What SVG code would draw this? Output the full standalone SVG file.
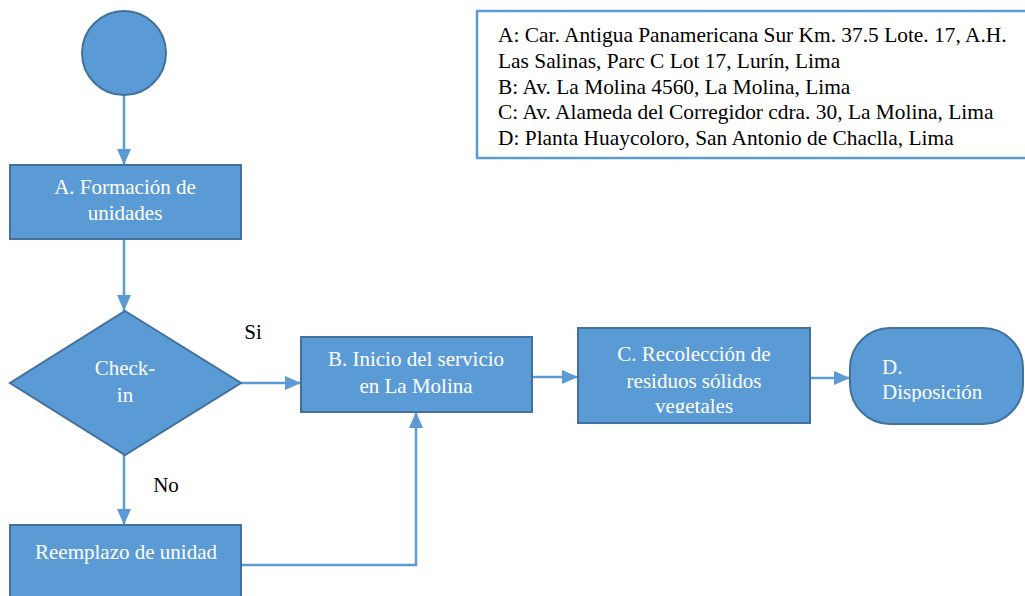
<svg xmlns="http://www.w3.org/2000/svg" width="1025" height="596" viewBox="0 0 1025 596">
<style>
.node{fill:#5B9BD5;stroke:#41719C;stroke-width:2}
.conn{fill:none;stroke:#5B9BD5;stroke-width:2.5}
</style>
<defs>
<marker id="ah" markerUnits="userSpaceOnUse" markerWidth="18" markerHeight="16" refX="16" refY="7" orient="auto">
<path d="M0,0 L16,7 L0,14 z" fill="#5B9BD5"/>
</marker>
<clipPath id="clipC"><rect x="578" y="328" width="232" height="85"/></clipPath>
<clipPath id="clipD"><rect x="850" y="328" width="175" height="74"/></clipPath>
</defs>
<rect width="1025" height="596" fill="#FFFFFF"/>
<g id="legend" font-family="'Liberation Serif', 'Times New Roman', serif" font-size="21.4" fill="#000000">
<rect x="477" y="11" width="552" height="147" fill="#FFFFFF" stroke="#5B9BD5" stroke-width="2.5"/>
<text x="498" y="42">A: Car. Antigua Panamericana Sur Km. 37.5 Lote. 17, A.H.</text>
<text x="498" y="68">Las Salinas, Parc C Lot 17, Lurín, Lima</text>
<text x="498" y="94">B: Av. La Molina 4560, La Molina, Lima</text>
<text x="498" y="119">C: Av. Alameda del Corregidor cdra. 30, La Molina, Lima</text>
<text x="498" y="145">D: Planta Huaycoloro, San Antonio de Chaclla, Lima</text>
</g>
<g id="connectors">
<line class="conn" x1="124" y1="95" x2="124" y2="165" marker-end="url(#ah)"/>
<line class="conn" x1="124" y1="239" x2="124" y2="311" marker-end="url(#ah)"/>
<line class="conn" x1="241" y1="383" x2="301" y2="383" marker-end="url(#ah)"/>
<line class="conn" x1="124" y1="455" x2="124" y2="525" marker-end="url(#ah)"/>
<polyline class="conn" points="241,565 416,565 416,412" marker-end="url(#ah)"/>
<line class="conn" x1="532" y1="377" x2="578" y2="377" marker-end="url(#ah)"/>
<line class="conn" x1="810" y1="378" x2="850" y2="378" marker-end="url(#ah)"/>
<g font-family="'Liberation Serif', 'Times New Roman', serif" font-size="21" fill="#000000" text-anchor="middle">
<text x="253" y="339">Si</text>
<text x="166" y="492">No</text>
</g>
</g>
<g id="start">
<circle class="node" cx="124" cy="53" r="42"/>
</g>
<g font-family="'Liberation Serif', 'Times New Roman', serif" font-size="21" fill="#FFFFFF" text-anchor="middle">
<g id="nodeA">
<rect class="node" x="10" y="165" width="231" height="74"/>
<text x="125" y="194">A. Formación de</text>
<text x="125" y="220">unidades</text>
</g>
<g id="checkin">
<polygon class="node" points="125,311 241,383 125,455 10,383"/>
<text x="125" y="375">Check-</text>
<text x="125" y="402">in</text>
</g>
<g id="reemplazo">
<rect class="node" x="10" y="525" width="231" height="80"/>
<text x="126" y="559">Reemplazo de unidad</text>
</g>
<g id="nodeB">
<rect class="node" x="301" y="337" width="231" height="75"/>
<text x="416" y="366">B. Inicio del servicio</text>
<text x="416" y="393">en La Molina</text>
</g>
<g id="nodeC">
<rect class="node" x="578" y="328" width="232" height="95"/>
<g clip-path="url(#clipC)">
<text x="694" y="361">C. Recolección de</text>
<text x="694" y="388">residuos sólidos</text>
<text x="694" y="413">vegetales</text>
</g>
</g>
<g id="nodeD">
<rect class="node" x="850" y="328" width="173" height="96" rx="40" ry="40"/>
<g clip-path="url(#clipD)" text-anchor="start">
<text x="882" y="374">D.</text>
<text x="882" y="399">Disposición</text>
</g>
</g>
</g>
</svg>
